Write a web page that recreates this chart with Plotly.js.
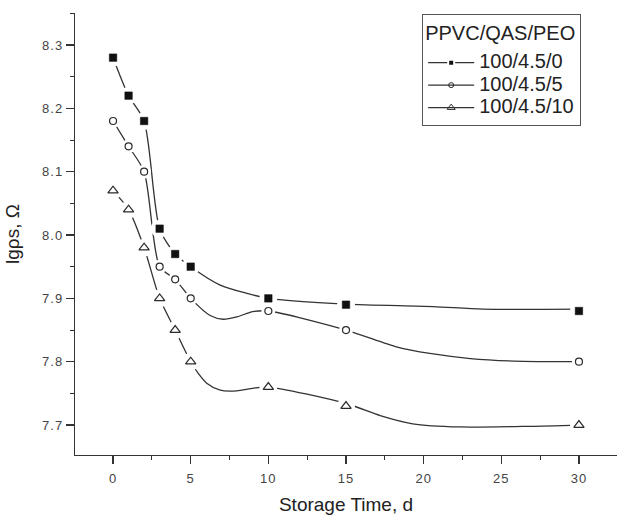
<!DOCTYPE html>
<html><head><meta charset="utf-8">
<script src="https://cdn.plot.ly/plotly-3.0.1.min.js"></script>
<style>body{margin:0;background:#fff}.xtick text,.ytick text{letter-spacing:1px}</style>
</head><body>
<div id="chart" style="width:618px;height:515px"></div>
<script>
// Data
const days = [0, 1, 2, 3, 4, 5, 10, 15, 30];
const peo0  = [8.28, 8.22, 8.18, 8.01, 7.97, 7.95, 7.90, 7.89, 7.88];
const peo5  = [8.18, 8.14, 8.10, 7.95, 7.93, 7.90, 7.88, 7.85, 7.80];
const peo10 = [8.07, 8.04, 7.98, 7.90, 7.85, 7.80, 7.76, 7.73, 7.70];
const seriesNames = ['100/4.5/0', '100/4.5/5', '100/4.5/10'];

// Drawn smooth curves, vertices
const curve0x  = [0, 1, 2, 3, 4, 5, 6.9, 8.6, 10, 15, 20.6, 23.8, 30];
const curve0y  = [8.28, 8.22, 8.18, 8.01, 7.97, 7.95, 7.921, 7.908, 7.90, 7.891, 7.887, 7.883, 7.883];
const curve5x  = [0, 1, 2, 3, 4, 5, 6.25, 7.1, 8.0, 9.0, 10, 15, 18.3, 20.4, 23, 25.8, 30];
const curve5y  = [8.18, 8.14, 8.10, 7.95, 7.93, 7.90, 7.873, 7.867, 7.871, 7.879, 7.88, 7.85, 7.823, 7.813, 7.805, 7.801, 7.80];
const curve10x = [0, 1, 2, 3, 4, 5, 5.5, 6.03, 6.9, 7.97, 9.0, 10, 15, 17.2, 19.3, 22.3, 26.8, 30];
const curve10y = [8.07, 8.04, 7.98, 7.90, 7.85, 7.80, 7.781, 7.766, 7.755, 7.754, 7.758, 7.76, 7.734, 7.715, 7.702, 7.697, 7.698, 7.70];

const ink = '#2a2a2a';
const lineStyle = {color: '#333', width: 1.3, shape: 'spline', smoothing: 0.75};
const mk = [
  {symbol: 'square', size: 7.5, color: '#111', line: {color: '#111', width: 0.5}},
  {symbol: 'circle-open', size: 7, color: ink, line: {color: ink, width: 1.2}},
  {symbol: 'triangle-up-open', size: 9, color: ink, line: {color: ink, width: 1.2}}
];
const mkLegend = [
  {symbol: 'square', size: 6, color: '#111', line: {color: '#fff', width: 2}},
  {symbol: 'circle-open', size: 5, color: ink, line: {color: ink, width: 1}},
  {symbol: 'triangle-up-open', size: 7, color: ink, line: {color: ink, width: 1}}
];
const haloSize = [18, 14, 18];
const ys = [peo0, peo5, peo10];
const cx = [curve0x, curve5x, curve10x];
const cy = [curve0y, curve5y, curve10y];

const traces = [];
// legend entries
for (let i = 0; i < 3; i++) {
  traces.push({x: [null], y: [null], type: 'scatter', mode: 'lines+markers',
    name: '<span style="font-size:20px">' + seriesNames[i] + '</span>',
    line: {color: '#333', width: 1.3}, marker: mkLegend[i], hoverinfo: 'skip'});
}
// curves
for (let i = 0; i < 3; i++) {
  traces.push({x: cx[i], y: cy[i], type: 'scatter', mode: 'lines', line: lineStyle,
    showlegend: false, hoverinfo: 'skip'});
}
// white halos that open gaps in the lines around the markers
for (let i = 0; i < 3; i++) {
  traces.push({x: days, y: ys[i], type: 'scatter', mode: 'markers', showlegend: false,
    marker: {symbol: 'circle', size: haloSize[i], color: '#fff'}, hoverinfo: 'skip'});
}
// markers
for (let i = 0; i < 3; i++) {
  traces.push({x: days, y: ys[i], type: 'scatter', mode: 'markers', showlegend: false,
    name: seriesNames[i], marker: mk[i]});
}

const layout = {
  width: 618, height: 515,
  margin: {l: 75, r: 1, t: 13, b: 60},
  paper_bgcolor: '#fff', plot_bgcolor: '#fff',
  font: {family: 'Liberation Sans, Arial, sans-serif', color: '#222'},
  xaxis: {
    range: [-2.45, 32.45], tick0: 0, dtick: 5, showgrid: false, zeroline: false,
    showline: true, linecolor: '#333', linewidth: 1.2,
    ticks: 'outside', ticklen: 8, tickwidth: 1.2, tickcolor: '#333',
    tickfont: {size: 13, color: '#444'}, ticklabelstandoff: 3,
    minor: {dtick: 2.5, tick0: 0, ticks: 'outside', ticklen: 4, tickwidth: 1, tickcolor: '#333', showgrid: false},
    title: {text: 'Storage Time, d', font: {size: 19, color: '#222'}, standoff: 19}
  },
  yaxis: {
    range: [7.6527, 8.3505], tick0: 7.7, dtick: 0.1, tickformat: '.1f', showgrid: false, zeroline: false,
    showline: true, linecolor: '#333', linewidth: 1.2,
    ticks: 'outside', ticklen: 8, tickwidth: 1.2, tickcolor: '#333',
    tickfont: {size: 13, color: '#444'},
    minor: {dtick: 0.05, tick0: 7.7, ticks: 'outside', ticklen: 4, tickwidth: 1, tickcolor: '#333', showgrid: false},
    title: {text: 'lgρs, Ω', font: {size: 19, color: '#222'}, standoff: 17}
  },
  legend: {
    x: 0.64, y: 0.998, xanchor: 'left', yanchor: 'top',
    bgcolor: '#fff', bordercolor: '#555', borderwidth: 1.3,
    font: {size: 15, color: '#222'}, itemwidth: 46, tracegroupgap: 0,
    title: {text: '<span style="font-size:20px;baseline-shift:6px">PPVC/QAS/PEO</span>', font: {size: 24, color: '#222'}}
  },
  showlegend: true
};

Plotly.newPlot('chart', traces, layout, {displayModeBar: false, staticPlot: true});
</script>
</body></html>
